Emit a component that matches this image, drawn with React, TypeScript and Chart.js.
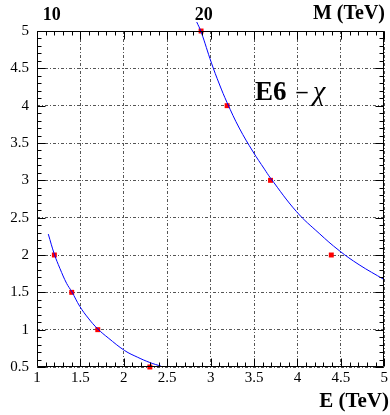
import React, { useEffect, useRef } from "react";
import { Chart, registerables } from "chart.js";
Chart.register(...registerables);

const lowerCurveE = [1.13, 1.2, 1.264, 1.341, 1.4, 1.494, 1.59, 1.7, 1.82, 2.01, 2.16, 2.3, 2.43];
const lowerCurveY = [2.28, 2.01, 1.82, 1.62, 1.51, 1.31, 1.155, 1.01, 0.89, 0.72, 0.63, 0.56, 0.51];
const upperCurveE = [2.84, 2.89, 3.01, 3.1, 3.19, 3.33, 3.49, 3.62, 3.69, 3.99, 4.25, 4.48, 4.71, 5.0];
const upperCurveY = [5.12, 4.99, 4.57, 4.29, 4.04, 3.7, 3.38, 3.15, 3.03, 2.58, 2.29, 2.06, 1.87, 1.67];
const pointsE = [1.2, 1.4, 1.7, 2.3, 2.89, 3.19, 3.69, 4.39];
const pointsY = [2.0, 1.5, 1.0, 0.5, 5.0, 4.0, 3.0, 2.0];
const topLabels = ["10", "20"];
const topLabelE = [1.17, 2.92];
const xTitle = "E (TeV)";
const topTitle = "M (TeV)";
const modelLabelMain = "E6";
const modelLabelDash = "\u2013";
const modelLabelGreek = "\u03c7";

const SERIF = "'Liberation Serif', 'DejaVu Serif', serif";

const decor = {
  id: "decor",
  afterDraw(chart: any) {
    const { ctx, chartArea: a, scales } = chart;
    const x = scales.x;
    const y = scales.y;
    ctx.save();
    ctx.strokeStyle = "#000";
    ctx.lineWidth = 1;
    ctx.setLineDash([]);
    const L = Math.round(a.left) + 0.5;
    const R = Math.round(a.right) - 0.5;
    const T = Math.round(a.top) + 0.5;
    const B = Math.round(a.bottom) - 0.5;
    ctx.beginPath();
    ctx.rect(L, T, R - L, B - T);
    ctx.stroke();
    ctx.beginPath();
    for (let i = 10; i <= 50; i++) {
      const px = Math.round(x.getPixelForValue(i / 10)) + 0.5;
      const len = i % 5 === 0 ? 8 : 4;
      ctx.moveTo(px, B);
      ctx.lineTo(px, B - len);
      ctx.moveTo(px, T);
      ctx.lineTo(px, T + len);
    }
    for (let i = 5; i <= 50; i++) {
      const py = Math.round(y.getPixelForValue(i / 10)) + 0.5;
      const len = i % 5 === 0 ? 8 : 4;
      ctx.moveTo(L, py);
      ctx.lineTo(L + len, py);
      ctx.moveTo(R, py);
      ctx.lineTo(R - len, py);
    }
    ctx.stroke();

    ctx.fillStyle = "#000";
    ctx.textBaseline = "alphabetic";
    ctx.font = `bold 18px ${SERIF}`;
    ctx.textAlign = "center";
    topLabels.forEach((t, i) => {
      ctx.fillText(t, x.getPixelForValue(topLabelE[i]), 20);
    });
    ctx.font = `bold 20px ${SERIF}`;
    ctx.textAlign = "right";
    ctx.fillText(topTitle, 385, 19);
    ctx.font = `bold 21px ${SERIF}`;
    ctx.fillText(xTitle, 389, 407);
    ctx.textAlign = "left";
    ctx.font = `bold 27px ${SERIF}`;
    ctx.fillText(modelLabelMain, 255, 100);
    ctx.textAlign = "center";
    ctx.font = `bold 22px ${SERIF}`;
    ctx.fillText(modelLabelDash, 302, 98);
    ctx.textAlign = "left";
    ctx.font = `italic 28px ${SERIF}`;
    ctx.fillText(modelLabelGreek, 313, 100);
    ctx.restore();
  },
};

export default function App() {
  const ref = useRef<HTMLCanvasElement>(null);
  useEffect(() => {
    if (!ref.current) return;
    const chart = new Chart(ref.current, {
      type: "scatter",
      data: {
        datasets: [
          {
            label: "lower",
            data: lowerCurveE.map((e, i) => ({ x: e, y: lowerCurveY[i] })),
            showLine: true,
            borderColor: "#0000ff",
            borderWidth: 1,
            pointRadius: 0,
            tension: 0.4,
            clip: false as any,
          },
          {
            label: "upper",
            data: upperCurveE.map((e, i) => ({ x: e, y: upperCurveY[i] })),
            showLine: true,
            borderColor: "#0000ff",
            borderWidth: 1,
            pointRadius: 0,
            tension: 0.4,
            clip: false as any,
          },
          {
            label: "points",
            data: pointsE.map((e, i) => ({ x: e, y: pointsY[i] })),
            showLine: false,
            pointStyle: "rect",
            pointRadius: 3.5,
            backgroundColor: "#ff0000",
            borderColor: "#ff0000",
            borderWidth: 0,
            clip: false as any,
          },
        ],
      },
      options: {
        animation: false,
        responsive: false,
        maintainAspectRatio: false,
        layout: { padding: { top: 31, right: 5, left: 0, bottom: 0 } },
        plugins: { legend: { display: false }, tooltip: { enabled: false } },
        scales: {
          x: {
            type: "linear",
            min: 1,
            max: 5,
            afterFit: (s: any) => {
              s.height = 48;
            },
            ticks: {
              stepSize: 0.5,
              color: "#000",
              font: { family: SERIF, size: 15 },
              padding: 2,
              maxRotation: 0,
              callback: (v: any) => String(v),
            },
            grid: {
              color: "#555",
              lineWidth: 1,
              drawTicks: false,
            },
            border: { display: false, dash: [3, 2, 1, 2] },
          },
          y: {
            type: "linear",
            min: 0.5,
            max: 5,
            afterFit: (s: any) => {
              s.width = 37;
            },
            ticks: {
              stepSize: 0.5,
              color: "#000",
              font: { family: SERIF, size: 15 },
              padding: 8,
              callback: (v: any) => String(v),
            },
            grid: {
              color: "#555",
              lineWidth: 1,
              drawTicks: false,
            },
            border: { display: false, dash: [3, 2, 1, 2] },
          },
        },
      },
      plugins: [decor],
    });
    return () => chart.destroy();
  }, []);
  return (
    <div style={{ position: "fixed", left: 0, top: 0, width: 390, height: 415, background: "#fff" }}>
      <canvas ref={ref} width={390} height={415} style={{ width: 390, height: 415 }} />
    </div>
  );
}
